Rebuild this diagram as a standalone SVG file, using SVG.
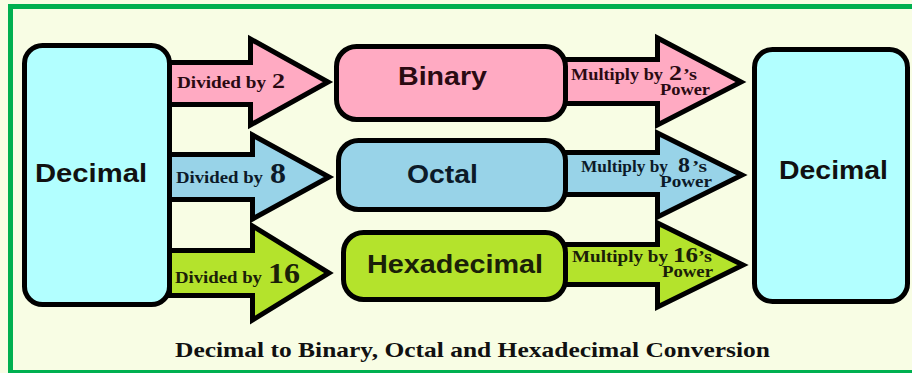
<svg xmlns="http://www.w3.org/2000/svg" width="912" height="373" viewBox="0 0 912 373">
<style>
.bd{stroke:#000;stroke-width:5;stroke-linejoin:miter}
.pk{fill:#FFAAC2}
.bl{fill:#98D3E8}
.gr{fill:#B4E32C}
.cy{fill:#B2FFFF}
.sans{font-family:"Liberation Sans",Arial,sans-serif;font-weight:bold}
.ser{font-family:"Liberation Serif","Times New Roman",serif;font-weight:bold}
</style>
<rect x="0" y="0" width="912" height="373" fill="#F8FDE4"/>
<rect x="10.5" y="6.5" width="906" height="366" fill="none" stroke="#00B050" stroke-width="5"/>
<g id="connectors">
  <polygon class="bd pk" points="169.5,62.5 250.5,62.5 250.5,39 328,82 250.5,125 250.5,104.5 169.5,104.5"/>
  <polygon class="bd bl" points="169.5,154.5 252.5,154.5 252.5,135 329,177 252.5,219 252.5,199.5 169.5,199.5"/>
  <polygon class="bd gr" points="169.5,250.5 252.5,250.5 252.5,226 329,273 252.5,320 252.5,295.5 169.5,295.5"/>
  <polygon class="bd pk" points="560,59.5 657.5,59.5 657.5,38 741,82 657.5,125 657.5,103.5 560,103.5"/>
  <polygon class="bd bl" points="560,152.5 657.5,152.5 657.5,133 742,175 657.5,217 657.5,194.5 560,194.5"/>
  <polygon class="bd gr" points="560,244.5 657.5,244.5 657.5,223 743,265 657.5,307 657.5,284.5 560,284.5"/>
  <g class="ser" fill="#2a0a12">
    <text x="177" y="88" font-size="16" textLength="89" lengthAdjust="spacingAndGlyphs">Divided by</text>
    <text x="272" y="88" font-size="22" textLength="13" lengthAdjust="spacingAndGlyphs">2</text>
    <text x="571" y="80" font-size="16" textLength="92" lengthAdjust="spacingAndGlyphs">Multiply by</text>
    <text x="669" y="80" font-size="21" textLength="13" lengthAdjust="spacingAndGlyphs">2</text>
    <text x="683" y="80" font-size="16" textLength="14" lengthAdjust="spacingAndGlyphs">’s</text>
    <text x="660" y="95" font-size="16" textLength="50" lengthAdjust="spacingAndGlyphs">Power</text>
  </g>
  <g class="ser" fill="#0c1a28">
    <text x="176" y="183" font-size="16" textLength="87" lengthAdjust="spacingAndGlyphs">Divided by</text>
    <text x="270" y="183" font-size="29" textLength="16" lengthAdjust="spacingAndGlyphs">8</text>
    <text x="581" y="172" font-size="16" textLength="87" lengthAdjust="spacingAndGlyphs">Multiply by</text>
    <text x="678" y="172" font-size="21" textLength="12" lengthAdjust="spacingAndGlyphs">8</text>
    <text x="692" y="172" font-size="16" textLength="15" lengthAdjust="spacingAndGlyphs">’s</text>
    <text x="660" y="187" font-size="16" textLength="52" lengthAdjust="spacingAndGlyphs">Power</text>
  </g>
  <g class="ser" fill="#1a2008">
    <text x="175" y="283" font-size="16" textLength="87" lengthAdjust="spacingAndGlyphs">Divided by</text>
    <text x="268" y="283" font-size="29" textLength="32" lengthAdjust="spacingAndGlyphs">16</text>
    <text x="572" y="262" font-size="16" textLength="96" lengthAdjust="spacingAndGlyphs">Multiply by</text>
    <text x="673" y="262" font-size="21" textLength="25" lengthAdjust="spacingAndGlyphs">16</text>
    <text x="698" y="262" font-size="16" textLength="14" lengthAdjust="spacingAndGlyphs">’s</text>
    <text x="662" y="277" font-size="16" textLength="51" lengthAdjust="spacingAndGlyphs">Power</text>
  </g>
</g>
<g id="decimal-left">
  <rect class="bd cy" x="24.5" y="45.5" width="145" height="259" rx="18"/>
  <text class="sans" x="35" y="182" font-size="25" fill="#111" textLength="112" lengthAdjust="spacingAndGlyphs">Decimal</text>
</g>
<g id="binary">
  <rect class="bd pk" x="336.5" y="46.5" width="229" height="73" rx="20"/>
  <text class="sans" x="398" y="85" font-size="26" fill="#2a0a12" textLength="89" lengthAdjust="spacingAndGlyphs">Binary</text>
</g>
<g id="octal">
  <rect class="bd bl" x="338.5" y="140.5" width="227" height="69" rx="20"/>
  <text class="sans" x="407" y="183" font-size="26" fill="#0c1a28" textLength="71" lengthAdjust="spacingAndGlyphs">Octal</text>
</g>
<g id="hexadecimal">
  <rect class="bd gr" x="343.5" y="232.5" width="222" height="67" rx="20"/>
  <text class="sans" x="367" y="273" font-size="26" fill="#1a2008" textLength="176" lengthAdjust="spacingAndGlyphs">Hexadecimal</text>
</g>
<g id="decimal-right">
  <rect class="bd cy" x="754.5" y="49.5" width="153" height="252" rx="18"/>
  <text class="sans" x="779" y="179" font-size="25" fill="#111" textLength="109" lengthAdjust="spacingAndGlyphs">Decimal</text>
</g>
<text class="ser" x="175" y="357" font-size="21" fill="#111" textLength="595" lengthAdjust="spacingAndGlyphs">Decimal to Binary, Octal and Hexadecimal Conversion</text>
</svg>
